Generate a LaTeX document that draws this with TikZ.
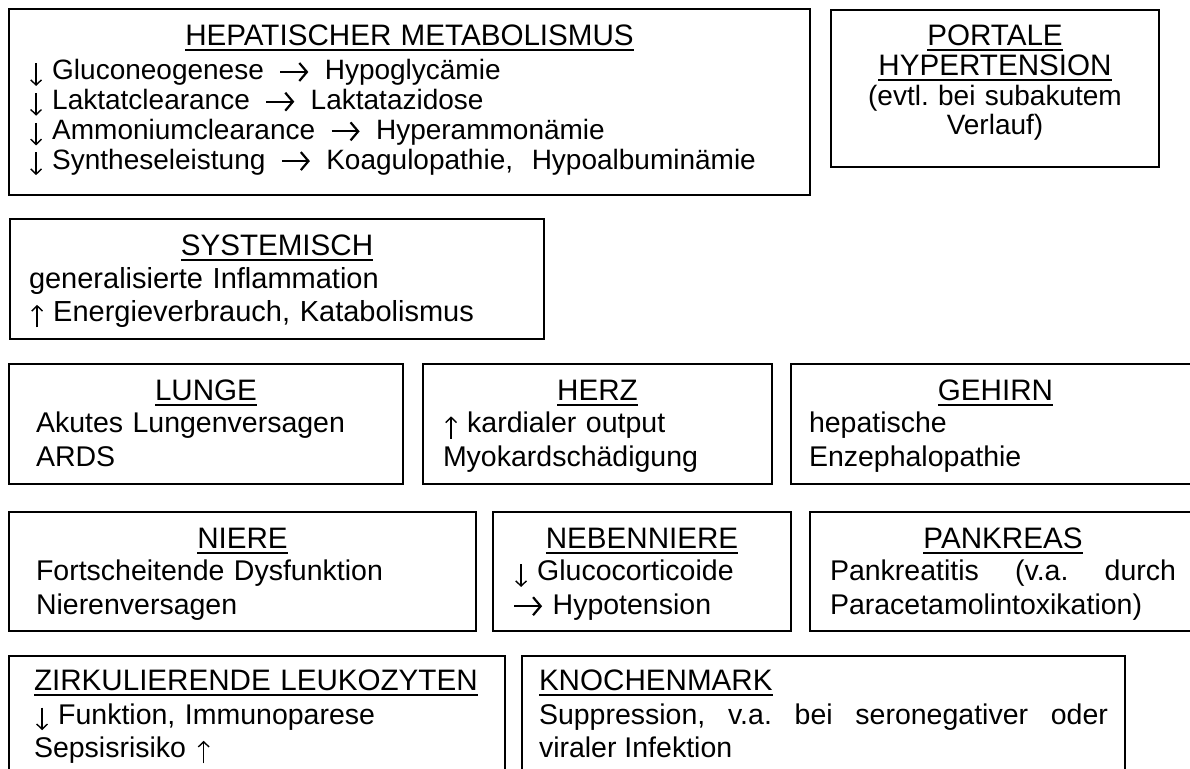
\documentclass[tikz,border=0pt]{standalone}
\usepackage{fontspec}
\setmainfont{Liberation Sans}
\usepackage{tikz}
\usetikzlibrary{arrows.meta,positioning}
\frenchspacing

% underlined box heading
\newcommand\titlefont{\fontsize{14.8pt}{14.8pt}\selectfont}
\newcommand\boxhead[1]{\leavevmode\setbox0\hbox{\titlefont #1}\rlap{\rule[-2.6pt]{\wd0}{1.1pt}}\box0}
\newcommand\chead[1]{\makebox[\linewidth]{\boxhead{#1}}}
% arrows as in the text
\newcommand\dn{\hspace*{1pt}\tikz[baseline=0pt]\draw[line width=0.7pt,-{Straight Barb[length=2.6pt,width=5.4pt]}] (0pt,8.3pt) -- (0pt,-3pt);\hspace{5pt}}
\newcommand\up{\hspace*{1pt}\tikz[baseline=0pt]\draw[line width=0.7pt,-{Straight Barb[length=2.6pt,width=5.4pt]}] (0pt,-3pt) -- (0pt,8.3pt);\hspace{5pt}}
\newcommand\raw{\tikz[baseline=-4pt]\draw[line width=1.1pt,-{Straight Barb[length=3.8pt,width=9pt]}] (0pt,0pt) -- (14pt,0pt);}
\newcommand\ra{\hspace{3pt}\raw\hspace{3pt}}

\tikzset{
  organ/.style n args={4}{draw, line width=1pt, anchor=north west,
    inner ysep=0pt, inner xsep=#2*0.5pt, text width=(#1-2*#2)*0.5pt,
    text height=#4*0.5pt, text depth=(#3-#4)*0.5pt, align=left,
    font=\fontsize{14.25pt}{16.6pt}\selectfont},
}

\begin{document}
\begin{tikzpicture}[x=0.5pt,y=-0.5pt]
  \useasboundingbox (0,0) rectangle (1190,769);
  \clip (0,0) rectangle (1190,769);

  % liver and portal system
  \node[organ={801}{19}{186}{37},font=\fontsize{14pt}{14.85pt}\selectfont] (hepar) at (8,8) {%
    \chead{HEPATISCHER METABOLISMUS}\\[2.15pt]
    \dn Gluconeogenese \ra{} Hypoglycämie\\
    \dn Laktatclearance \ra{} Laktatazidose\\
    \dn Ammoniumclearance \ra{} Hyperammonämie\\
    \dn Syntheseleistung \ra{} Koagulopathie,~ Hypoalbuminämie};
  \node[organ={328}{10}{157}{36},align=center,font=\fontsize{14pt}{14.6pt}\selectfont] (portal) at (830,9) {%
    \boxhead{PORTALE}\\[0.4pt]
    \boxhead{HYPERTENSION}\\
    (evtl. bei subakutem\\
    Verlauf)};

  % whole body
  \node[organ={534}{19}{120}{37},font=\fontsize{14.5pt}{16.25pt}\selectfont] (system) at (9,218) {%
    \chead{SYSTEMISCH}\\[0.25pt]
    generalisierte Inflammation\\
    \up Energieverbrauch, Katabolismus};

  % organs, row 1
  \node[organ={394}{27}{120}{37}] (lunge) at (8,363) {%
    \chead{LUNGE}\\[-0.6pt]
    Akutes Lungenversagen\\
    ARDS};
  \node[organ={349}{20}{120}{37}] (herz) at (422,363) {%
    \chead{HERZ}\\[-0.6pt]
    \up kardialer output\\
    Myokardschädigung};
  \node[organ={409}{18}{120}{37}] (gehirn) at (790,363) {%
    \chead{GEHIRN}\\[-0.6pt]
    hepatische\\
    Enzephalopathie};

  % organs, row 2
  \node[organ={467}{27}{119}{37}] (niere) at (8,511) {%
    \chead{NIERE}\\[-0.6pt]
    Fortscheitende Dysfunktion\\
    Nierenversagen};
  \node[organ={298}{20}{119}{37}] (nebenniere) at (492,511) {%
    \chead{NEBENNIERE}\\[-0.6pt]
    \dn Glucocorticoide\\
    \raw{} Hypotension};
  \node[organ={386}{20}{119}{37},align=justify] (pankreas) at (809,511) {%
    \chead{PANKREAS}\\[-0.6pt]
    Pankreatitis (v.a. durch\linebreak
    Paracetamolintoxikation)};

  % blood and marrow
  \node[organ={496}{25}{150}{35}] (leuko) at (8,655) {%
    \boxhead{ZIRKULIERENDE LEUKOZYTEN}\\
    \dn Funktion, Immunoparese\\
    Sepsisrisiko \up};
  \node[organ={603}{17}{150}{35},align=justify] (mark) at (521,655) {%
    \boxhead{KNOCHENMARK}\\
    Suppression, v.a. bei seronegativer oder\linebreak
    viraler Infektion};
\end{tikzpicture}
\end{document}
